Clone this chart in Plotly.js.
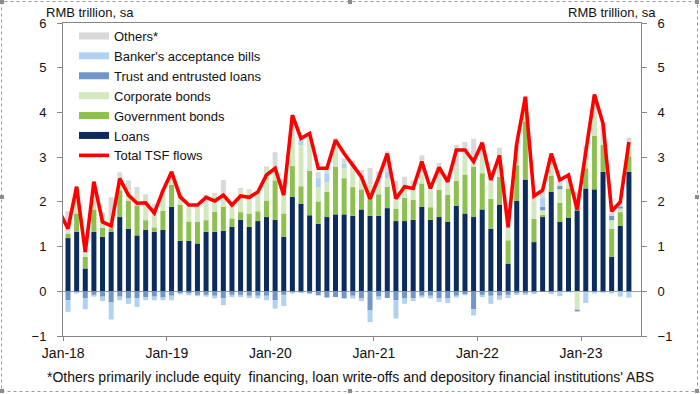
<!DOCTYPE html>
<html>
<head>
<meta charset="utf-8">
<script src="https://cdn.plot.ly/plotly-3.0.1.min.js"></script>
<style>html,body{margin:0;padding:0;background:#fff;}#chart{width:700px;height:394px;}</style>
</head>
<body>
<div id="chart"></div>
<script>
// Months Jan-18 .. Jun-23 (bars); line also has Dec-17
const months = ['Jan-18','Feb-18','Mar-18','Apr-18','May-18','Jun-18','Jul-18','Aug-18','Sep-18','Oct-18','Nov-18','Dec-18',
 'Jan-19','Feb-19','Mar-19','Apr-19','May-19','Jun-19','Jul-19','Aug-19','Sep-19','Oct-19','Nov-19','Dec-19',
 'Jan-20','Feb-20','Mar-20','Apr-20','May-20','Jun-20','Jul-20','Aug-20','Sep-20','Oct-20','Nov-20','Dec-20',
 'Jan-21','Feb-21','Mar-21','Apr-21','May-21','Jun-21','Jul-21','Aug-21','Sep-21','Oct-21','Nov-21','Dec-21',
 'Jan-22','Feb-22','Mar-22','Apr-22','May-22','Jun-22','Jul-22','Aug-22','Sep-22','Oct-22','Nov-22','Dec-22',
 'Jan-23','Feb-23','Mar-23','Apr-23','May-23','Jun-23'];
const tickLabels = ['Jan-18','Jan-19','Jan-20','Jan-21','Jan-22','Jan-23'];

const loans = [1.19,1.33,0.51,1.33,1.22,1.33,1.66,1.40,1.25,1.37,1.33,1.37,
 1.89,1.13,1.13,1.07,1.33,1.33,1.35,1.44,1.60,1.44,1.57,1.66,
 1.60,1.22,2.11,1.96,1.70,1.51,1.66,1.72,1.72,1.69,1.83,1.69,
 1.69,1.86,1.57,1.57,1.60,1.89,1.60,1.66,1.55,1.91,1.74,1.66,
 1.83,1.40,1.94,0.62,2.02,2.50,1.10,1.66,2.22,1.55,1.64,1.81,
 2.30,2.28,2.67,0.77,1.46,2.67];
const govBonds = [0.10,0.41,0.26,0.50,0.20,0.08,0.60,0.62,0.67,0.22,0.10,0.43,
 0.49,0.80,0.43,0.49,0.26,0.45,0.54,0.19,0.17,0.30,0.22,0.37,
 0.88,0.52,0.69,0.39,1.00,0.50,0.56,1.07,0.81,0.64,0.45,0.50,
 0.48,0.48,0.28,0.52,0.45,0.52,0.28,0.61,0.61,0.56,0.87,1.13,
 0.81,0.67,0.62,0.52,0.80,1.30,0.52,0.05,0.37,0.43,0.66,0.25,
 0.45,1.20,0.60,0.63,0.31,0.35];
const corpBonds = [0.05,0.30,0.08,0.25,0.25,0.25,0.15,0.24,0.26,0.41,0.40,0.31,
 0.20,0.15,0.30,0.30,0.37,0.37,0.26,0.26,0.49,0.49,0.39,0.71,
 0.26,0.41,0.66,0.92,0.60,0.32,0.22,0.48,0.22,0.37,0.30,0.20,
 0.21,0.19,0.41,0.22,0.17,0.22,0.37,0.30,0.21,0.30,0.40,0.25,
 0.37,0.37,0.30,0.24,0.30,0.30,0.41,0.10,0.22,0.30,0.12,-0.41,
 0.20,0.48,0.30,0.19,0.08,0.30];
const trustLoans = [-0.20,-0.03,-0.15,-0.08,-0.12,-0.25,-0.12,-0.15,-0.15,-0.13,-0.12,-0.14,
 -0.10,-0.04,-0.05,-0.08,-0.08,-0.10,-0.15,-0.08,-0.08,-0.10,-0.10,-0.10,
 -0.20,-0.08,-0.03,-0.03,-0.05,-0.09,-0.14,-0.13,-0.16,-0.10,-0.15,-0.43,
 -0.12,-0.15,-0.20,-0.15,-0.15,-0.10,-0.10,-0.15,-0.15,-0.10,-0.06,-0.40,
 -0.08,-0.10,-0.10,-0.08,-0.05,-0.05,-0.03,0.08,-0.03,0.08,-0.02,-0.04,
 -0.02,-0.02,-0.02,0.10,0.05,-0.02];
const bankersAcc = [-0.26,-0.02,-0.25,-0.04,-0.10,-0.38,-0.08,-0.13,-0.20,-0.07,-0.08,-0.06,
 -0.10,-0.03,-0.04,-0.03,-0.04,-0.06,-0.16,-0.05,-0.05,-0.05,-0.06,-0.10,
 -0.19,-0.25,-0.02,0.11,0.00,0.21,0.20,0.00,0.11,-0.06,-0.07,-0.26,
 -0.07,0.15,-0.41,-0.13,-0.07,-0.04,-0.06,-0.09,-0.11,-0.04,-0.03,-0.14,
 -0.05,-0.18,-0.09,-0.07,-0.03,-0.03,-0.03,0.20,-0.03,-0.11,0.00,0.00,
 -0.24,-0.03,-0.02,-0.05,-0.12,-0.12];
const others = [0.45,0.30,0.05,0.35,0.10,0.44,0.25,0.22,0.15,0.17,0.12,0.15,
 0.10,0.10,0.08,0.05,0.20,0.05,0.34,0.10,0.05,0.05,0.05,0.05,
 0.37,0.35,0.45,0.06,0.20,0.13,0.15,0.15,0.11,0.22,0.13,0.37,
 0.30,0.45,0.21,0.25,0.26,0.41,0.15,0.30,0.25,0.50,0.33,0.37,
 0.34,0.19,0.35,0.10,0.15,0.25,0.12,0.15,0.20,0.15,0.15,0.15,
 0.30,0.40,0.20,0.07,0.10,0.12];
// Total TSF flows: Dec-17 then Jan-18 .. Jun-23
const tsfMonths = ['Dec-17'].concat(months);
const tsfTotal = [1.78,1.40,2.34,0.88,2.45,1.55,1.46,2.52,2.15,1.97,1.98,1.75,2.25,
 2.67,2.11,1.93,1.93,2.10,2.02,2.15,1.93,2.13,2.10,2.22,2.60,
 2.75,2.15,3.94,3.42,3.53,2.75,2.75,3.38,3.08,2.82,2.56,2.07,
 2.54,3.08,2.07,2.34,2.30,2.90,2.30,2.77,2.45,3.16,3.16,2.90,
 3.32,2.49,3.04,1.43,3.30,4.35,2.13,2.26,3.08,2.49,2.60,1.83,
 3.12,4.40,3.75,1.79,2.00,3.34];

const colors = {
  loans:'#0b2c5c', gov:'#8dc04e', corp:'#d4e8bf', trust:'#7097c8', ba:'#b0d2f0', others:'#d9d9d9', tsf:'#ff0000'
};

const barIdx = months.map((m,i)=>i);
const lineIdx = tsfMonths.map((m,i)=>i-1);
const tickIdx = tickLabels.map(t => months.indexOf(t) - 0.55);

const series = [
  {name:'Loans', y:loans, c:colors.loans, rank:6},
  {name:'Government bonds', y:govBonds, c:colors.gov, rank:5},
  {name:'Corporate bonds', y:corpBonds, c:colors.corp, rank:4},
  {name:'Trust and entrusted loans', y:trustLoans, c:colors.trust, rank:3},
  {name:"Banker's acceptance bills", y:bankersAcc, c:colors.ba, rank:2},
  {name:'Others*', y:others, c:colors.others, rank:1}
];

const traces = [];
series.forEach(s => {
  traces.push({type:'bar', x:barIdx, y:s.y, name:s.name, marker:{color:s.c, line:{width:0}},
    showlegend:false, hoverinfo:'skip'});
});
// legend entries drawn as thick strokes
series.forEach(s => {
  traces.push({type:'scatter', mode:'lines', x:[null], y:[null], name:s.name,
    line:{color:s.c, width:7}, legendrank:s.rank, hoverinfo:'skip'});
});
traces.push({type:'scatter', mode:'lines', x:lineIdx, y:tsfTotal, name:'Total TSF flows',
  line:{color:colors.tsf, width:3.6}, legendrank:7});

const F = 'Liberation Sans, Arial, sans-serif';
const L = 63, R = 59, T = 23, B = 58, W = 700, H = 394;
const pw = W - L - R, ph = H - T - B;
const px = x => (x - L) / pw;
const py = y => (H - B - y) / ph;

const handle = (x, y) => ({type:'rect', xref:'paper', yref:'paper', xsizemode:'pixel', ysizemode:'pixel',
  xanchor:px(x), yanchor:py(y), x0:-2, x1:2, y0:-2, y1:2, fillcolor:'#8c8c8c', line:{width:0}});

const layout = {
  width:W, height:H,
  margin:{l:L, r:R, t:T, b:B},
  paper_bgcolor:'#fff', plot_bgcolor:'#fff',
  barmode:'relative', bargap:0.42,
  font:{family:F, size:13, color:'#111'},
  showlegend:true,
  legend:{x:px(74), y:py(21), xanchor:'left', yanchor:'top', bgcolor:'rgba(0,0,0,0)',
    font:{family:F, size:13, color:'#111'}, tracegroupgap:0, itemwidth:30},
  xaxis:{range:[-0.58, 66.4], tickvals:tickIdx, ticktext:tickLabels, ticks:'outside', ticklen:4,
    tickcolor:'#868686', showline:true, linecolor:'#868686', linewidth:1, mirror:true,
    showgrid:false, zeroline:false, tickfont:{family:F, size:14, color:'#111'}, fixedrange:true},
  yaxis:{range:[-1, 6], dtick:1, ticks:'outside', ticklen:5, tickcolor:'#868686',
    showline:true, linecolor:'#868686', linewidth:1, mirror:true, showgrid:false,
    zeroline:true, zerolinecolor:'#a0a0a0', zerolinewidth:1, ticklabelstandoff:8,
    tickfont:{family:F, size:13, color:'#111'}, fixedrange:true},
  yaxis2:{range:[-1, 6], dtick:1, overlaying:'y', side:'right', ticks:'outside', ticklen:5,
    tickcolor:'#868686', showline:false, showgrid:false, zeroline:false, ticklabelstandoff:8,
    tickfont:{family:F, size:13, color:'#111'}, fixedrange:true},
  annotations:[
    {xref:'paper', yref:'paper', x:px(44), y:py(12), xanchor:'left', yanchor:'middle', showarrow:false,
      text:'RMB trillion, sa', font:{family:F, size:13, color:'#111'}},
    {xref:'paper', yref:'paper', x:px(658), y:py(12), xanchor:'right', yanchor:'middle', showarrow:false,
      text:'RMB trillion, sa', font:{family:F, size:13, color:'#111'}},
    {xref:'paper', yref:'paper', x:px(45), y:py(377), xanchor:'left', yanchor:'middle', showarrow:false,
      text:"*Others primarily include equity  financing, loan write-offs and depository financial institutions' ABS",
      font:{family:F, size:14, color:'#111'}}
  ],
  shapes:[
    {type:'rect', xref:'paper', yref:'paper', x0:px(1.5), x1:px(697.5), y0:py(391.5), y1:py(1.5),
      line:{color:'#9a9a9a', width:1, dash:'dot'}, fillcolor:'rgba(0,0,0,0)'},
    handle(2,2), handle(350,2), handle(697,2), handle(2,197), handle(697,197),
    handle(2,391), handle(350,391), handle(697,391)
  ]
};

// dummy trace to show the right axis
traces.push({type:'scatter', mode:'lines', x:[null], y:[null], yaxis:'y2', showlegend:false, hoverinfo:'skip'});

Plotly.newPlot('chart', traces, layout, {displayModeBar:false, staticPlot:true});
</script>
</body>
</html>
